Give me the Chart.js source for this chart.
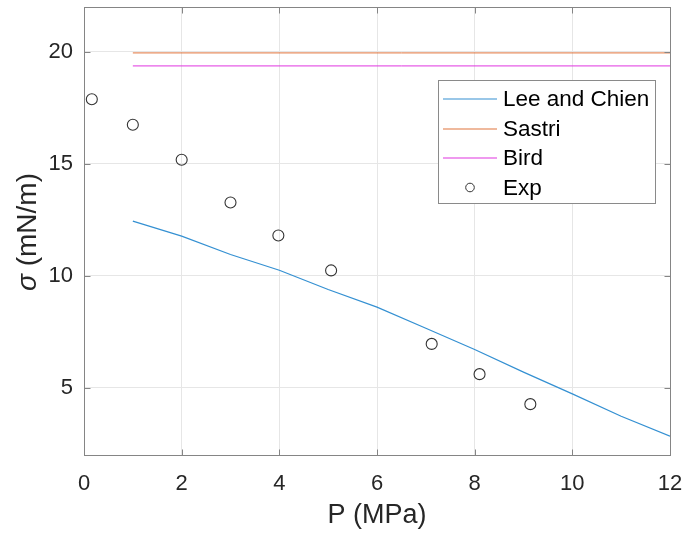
<!DOCTYPE html>
<html>
<head>
<meta charset="utf-8">
<script src="https://cdn.jsdelivr.net/npm/chart.js@4/dist/chart.umd.min.js"></script>
<style>
  html, body { margin: 0; padding: 0; background: #fff; }
  #wrap { width: 686px; height: 533px; }
</style>
</head>
<body>
<div id="wrap"><canvas id="c" width="686" height="533"></canvas></div>
<script>
// Surface tension vs pressure: model curves and experimental points
const leeP = [1, 2, 3, 4, 5, 6, 7, 8, 9, 10, 11, 12];
const leeSigma = [12.44, 11.77, 10.95, 10.25, 9.39, 8.6, 7.66, 6.71, 5.70, 4.73, 3.73, 2.84];

const sastriP = [1, 12];
const sastriSigma = [19.95, 19.95];

const birdP = [1, 12];
const birdSigma = [19.37, 19.37];

const expP = [0.16, 1.0, 2.0, 3.0, 3.98, 5.06, 7.12, 8.1, 9.14];
const expSigma = [17.88, 16.74, 15.18, 13.27, 11.8, 10.24, 6.96, 5.61, 4.27];

const xTicks = [0, 2, 4, 6, 8, 10, 12];
const yTicks = [5, 10, 15, 20];

const seriesNames = ['Lee and Chien', 'Sastri', 'Bird', 'Exp'];
const seriesColors = ['#3490D2', '#E0743C', '#E035E0', '#333333'];

const FONT = '"Liberation Sans", Arial, Helvetica, sans-serif';
const toXY = (xs, ys) => xs.map((x, i) => ({ x: x, y: ys[i] }));

// Box outline, inward ticks, y-axis title and the legend, drawn over the plot
const axesDecor = {
  id: 'axesDecor',
  afterDraw(chart) {
    const ctx = chart.ctx;
    const a = chart.chartArea;
    const xs = chart.scales.x, ys = chart.scales.y;
    ctx.save();
    ctx.strokeStyle = '#858585';
    ctx.lineWidth = 1;
    const L = Math.round(a.left) + 0.5, R = Math.round(a.right) + 0.5;
    const T = Math.round(a.top) + 0.5, B = Math.round(a.bottom) + 0.5;
    ctx.strokeRect(L, T, R - L, B - T);
    const tl = 6;
    ctx.beginPath();
    xTicks.forEach(v => {
      const px = Math.round(xs.getPixelForValue(v)) + 0.5;
      ctx.moveTo(px, B); ctx.lineTo(px, B - tl);
      ctx.moveTo(px, T); ctx.lineTo(px, T + tl);
    });
    yTicks.forEach(v => {
      const py = Math.round(ys.getPixelForValue(v)) + 0.5;
      ctx.moveTo(L, py); ctx.lineTo(L + tl, py);
      ctx.moveTo(R, py); ctx.lineTo(R - tl, py);
    });
    ctx.stroke();

    // y-axis title with italic sigma
    ctx.save();
    ctx.translate(28, 232);
    ctx.rotate(-Math.PI / 2);
    ctx.fillStyle = '#262626';
    ctx.textBaseline = 'middle';
    const f1 = 'italic 28px ' + FONT, f2 = '28px ' + FONT;
    ctx.font = f1; const w1 = ctx.measureText('σ').width;
    ctx.font = f2; const w2 = ctx.measureText(' (mN/m)').width;
    const x0 = -(w1 + w2) / 2;
    ctx.font = f1; ctx.textAlign = 'left'; ctx.fillText('σ', x0, 0);
    ctx.font = f2; ctx.fillText(' (mN/m)', x0 + w1, 0);
    ctx.restore();

    // legend
    const bx = 438.5, by = 80.5, bw = 217, bh = 123;
    ctx.fillStyle = '#ffffff';
    ctx.fillRect(bx, by, bw, bh);
    ctx.strokeStyle = '#8a8a8a';
    ctx.lineWidth = 1;
    ctx.strokeRect(bx, by, bw, bh);
    const rowY = [99, 128.5, 158, 187.5];
    ctx.font = '22.5px ' + FONT;
    ctx.textBaseline = 'middle';
    ctx.textAlign = 'left';
    seriesNames.forEach((name, i) => {
      const y = rowY[i];
      ctx.strokeStyle = seriesColors[i];
      ctx.lineWidth = 1.2;
      ctx.beginPath();
      if (i < 3) {
        ctx.moveTo(443, Math.round(y));
        ctx.lineTo(497, Math.round(y));
      } else {
        ctx.lineWidth = 1;
        ctx.arc(470, y, 4.3, 0, Math.PI * 2);
      }
      ctx.stroke();
      ctx.fillStyle = '#000000';
      ctx.fillText(name, 503, y + 1);
    });
    ctx.restore();
  }
};

new Chart(document.getElementById('c'), {
  type: 'scatter',
  data: {
    datasets: [
      { label: seriesNames[0], data: toXY(leeP, leeSigma), showLine: true,
        borderColor: seriesColors[0], borderWidth: 1.2, pointRadius: 0, tension: 0 },
      { label: seriesNames[1], data: toXY(sastriP, sastriSigma), showLine: true,
        borderColor: seriesColors[1], borderWidth: 1, pointRadius: 0 },
      { label: seriesNames[2], data: toXY(birdP, birdSigma), showLine: true,
        borderColor: seriesColors[2], borderWidth: 1, pointRadius: 0 },
      { label: seriesNames[3], data: toXY(expP, expSigma), showLine: false,
        pointStyle: 'circle', pointRadius: 5.5, pointBorderWidth: 1.1,
        pointBorderColor: seriesColors[3], pointBackgroundColor: 'rgba(0,0,0,0)' }
    ]
  },
  options: {
    responsive: false,
    animation: false,
    layout: { padding: { left: 0, top: 7, right: 16, bottom: 0 } },
    plugins: { legend: { display: false }, tooltip: { enabled: false } },
    scales: {
      x: {
        type: 'linear', min: 0, max: 12,
        afterBuildTicks: s => { s.ticks = xTicks.map(v => ({ value: v })); },
        afterFit: s => { s.height = 78; s.paddingLeft = 0; s.paddingRight = 0; },
        grid: { color: '#e6e6e6', drawTicks: false },
        border: { display: false },
        ticks: { padding: 16, color: '#262626', font: { family: FONT, size: 22 } },
        title: { display: true, text: 'P (MPa)', color: '#262626',
                 font: { family: FONT, size: 27 }, padding: { top: 0, bottom: 1 } }
      },
      y: {
        type: 'linear', min: 2, max: 22,
        afterBuildTicks: s => { s.ticks = yTicks.map(v => ({ value: v })); },
        afterFit: s => { s.width = 84; s.paddingTop = 0; s.paddingBottom = 0; },
        grid: { color: '#e6e6e6', drawTicks: false },
        border: { display: false },
        ticks: { padding: 11, color: '#262626', font: { family: FONT, size: 22 } },
        title: { display: false }
      }
    }
  },
  plugins: [axesDecor]
});
</script>
</body>
</html>
